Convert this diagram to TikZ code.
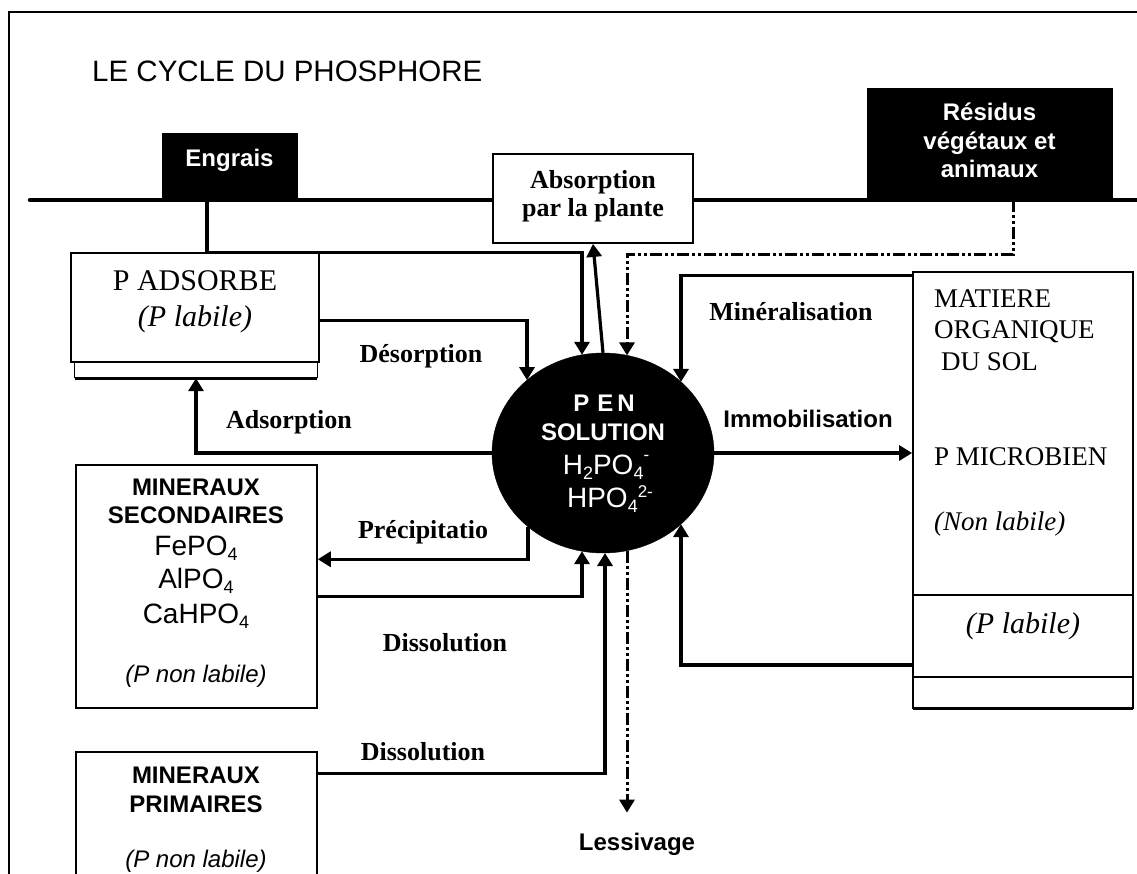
\documentclass[tikz,border=0pt]{standalone}
\usepackage{fontspec}
\setmainfont{Liberation Serif}
\newfontfamily\arial{Liberation Sans}
\usetikzlibrary{arrows.meta,calc,shapes.geometric}
\newcommand\fs[1]{\fontsize{#1}{#1}\selectfont}
\newcommand\chsub[1]{\raisebox{-0.18em}{\fs{18}#1}}
\newcommand\chsup[1]{\raisebox{0.5em}{\fs{17}#1}}
\newcommand\chsuplow[1]{\raisebox{0.33em}{\fs{17}#1}}
\begin{document}
\begin{tikzpicture}[x=1pt,y=-1pt,
  rbox/.style={draw,line width=1.8pt,fill=white,inner sep=0pt},
  bbox/.style={draw,fill=black,inner sep=0pt},
  conn/.style={line width=3.2pt,-{Triangle[length=13pt,width=15pt]}},
  ddot/.style={line width=3pt,dash pattern=on 12pt off 3pt on 3pt off 3pt on 3pt off 3pt,-{Triangle[length=13pt,width=15pt]}},
  plabel/.style={font=\fs{26}\bfseries,anchor=base,inner sep=0pt},
  slabel/.style={font=\arial\fs{24}\bfseries,anchor=base,inner sep=0pt},
  wlabel/.style={font=\arial\fs{24}\bfseries,text=white,anchor=base,inner sep=0pt},
  tlabel/.style={font=\fs{27},anchor=base west,inner sep=0pt},
  chem/.style={font=\arial\fs{28},anchor=base,inner sep=0pt},
]
\useasboundingbox (0,0) rectangle (1137,873);
\clip (0,0) rectangle (1137,873);

% frame
\draw[line width=2pt] (9,880) -- (9,12) -- (1140,12);
\node[font=\arial\fs{29.5},anchor=base west,inner sep=0pt] (title) at (92,81) {LE CYCLE DU PHOSPHORE};

% ground line
\draw[line width=4.5pt,line cap=round] (30,200) -- (1140,200);

% top boxes
\node[bbox,minimum width=135pt,minimum height=67pt] (engrais) at (229.5,166.5) {};
\node[wlabel] (engraist) at (229.5,166.5) {Engrais};
\node[bbox,minimum width=245pt,minimum height=112pt] (residus) at (989.5,144) {};
\node[wlabel] (res1) at (989.5,120.5) {Résidus};
\node[wlabel] (res2) at (989.5,149) {végétaux et};
\node[wlabel] (res3) at (989.5,177.5) {animaux};
\node[rbox,minimum width=200pt,minimum height=89pt] (absorp) at (593,198.5) {};
\node[plabel] (abs1) at (593,188) {Absorption};
\node[plabel] (abs2) at (593,216) {par la plante};

% P en solution
\node[ellipse,fill=black,draw=black,minimum width=222pt,minimum height=200pt,inner sep=0pt] (sol) at (603,453) {};
\node[wlabel] (sol1) at (604,411) {P\,\,E\,N};
\node[wlabel] (sol2) at (603,440) {SOLUTION};
\node[chem,text=white] (sol3) at (606,474) {H\chsub{2}PO\chsub{4}\chsup{-}};
\node[chem,text=white] (sol4) at (610,507) {HPO\chsub{4}\chsuplow{2-}};

% tips on the circle
\coordinate (t1) at ($(sol.center)+(-21,-98.2)$);
\coordinate (t3) at ($(sol.center)+(24,-97.6)$);
\coordinate (t4) at ($(sol.center)+(-76,-72.9)$);
\coordinate (t5) at ($(sol.center)+(78,-71.1)$);
\coordinate (t6) at ($(sol.center)+(78,71.1)$);
\coordinate (t7) at ($(sol.center)+(-75,73.7)$);
\coordinate (t8) at ($(sol.center)+(-21,98.2)$);
\coordinate (t9) at ($(sol.center)+(2,100)$);
\coordinate (t10) at ($(sol.center)+(24,97.6)$);

% P ADSORBE
\node[rbox,minimum width=248pt,minimum height=109pt] (padsorbe) at (195,307.5) {};
\node[font=\fs{30},anchor=base,inner sep=0pt] (pad1) at (195,290) {P ADSORBE};
\node[font=\fs{30}\itshape,anchor=base,inner sep=0pt] (pad2) at (195,326) {(P labile)};
\node[inner sep=0pt,minimum width=242pt,minimum height=16pt] (padstrip) at (196,370) {};
\draw[line width=1pt] (padstrip.north west) -- (padstrip.south west);
\draw[line width=1pt] (padstrip.north east) -- (padstrip.south east);
\draw[line width=3pt] (padstrip.south west) -- (padstrip.south east);

% MATIERE ORGANIQUE
\node[rbox,minimum width=220pt,minimum height=323pt] (matiere) at (1023,433.5) {};
\node[rbox,minimum width=220pt,minimum height=82pt] (mlab) at (1023,636) {};
\node[inner sep=0pt,minimum width=220pt,minimum height=31pt] (mstrip) at (1023,692.5) {};
\draw[line width=2pt] (mstrip.north west) -- (mstrip.south west) -- (mstrip.south east) -- (mstrip.north east);
\draw[line width=3pt] (mstrip.south west) -- (mstrip.south east);
\node[tlabel] (m1) at (934,307) {MATIERE};
\node[tlabel] (m2) at (934,338) {ORGANIQUE};
\node[tlabel] (m3) at (941,370) {DU SOL};
\node[tlabel] (m4) at (934,465) {P MICROBIEN};
\node[tlabel,font=\fs{27}\itshape] (m5) at (934,530) {(Non labile)};
\node[font=\fs{30}\itshape,anchor=base,inner sep=0pt] (m6) at (1023,633) {(P labile)};

% MINERAUX SECONDAIRES
\node[rbox,line width=1.5pt,minimum width=241pt,minimum height=243pt] (minsec) at (196.5,586.5) {};
\node[slabel] (ms1) at (196,495) {MINERAUX};
\node[slabel] (ms2) at (196,523) {SECONDAIRES};
\node[chem] (ms3) at (196,555) {FePO\chsub{4}};
\node[chem] (ms4) at (196,588) {AlPO\chsub{4}};
\node[chem] (ms5) at (196,623) {CaHPO\chsub{4}};
\node[font=\arial\fs{24}\itshape,anchor=base,inner sep=0pt] (ms6) at (196,682) {(P non labile)};

% MINERAUX PRIMAIRES
\node[rbox,line width=1.5pt,minimum width=241pt,minimum height=148pt] (minprim) at (196.5,826) {};
\node[slabel] (mp1) at (196,783) {MINERAUX};
\node[slabel] (mp2) at (196,812) {PRIMAIRES};
\node[font=\arial\fs{24}\itshape,anchor=base,inner sep=0pt] (mp3) at (196,867) {(P non labile)};

% connectors
\coordinate (e1) at ($(engrais.south)+(-22.5,0)$);
\draw[conn] (e1) -- (e1 |- padsorbe.north) -| (t1);
\draw[conn] (sol.north) -- (absorp.south);
\coordinate (r1) at ($(residus.south)+(23.5,0)$);
\coordinate (r2) at ($(residus.south)+(23.5,54)$);
\draw[ddot] (r1) -- (r2) -| (t3);
\coordinate (d1) at ($(padsorbe.north east)+(0,68)$);
\draw[conn] (d1) -| (t4);
\node[plabel] (desorp) at (421,362) {Désorption};
\draw[conn] (sol.west) -| (padstrip.south);
\node[plabel] (adsorp) at (289,428) {Adsorption};
\coordinate (mi1) at ($(matiere.north west)+(0,4)$);
\draw[conn] (mi1) -| (t5);
\node[plabel] (miner) at (791,320) {Minéralisation};
\draw[conn] (sol.east) -- (sol.east -| matiere.west);
\node[slabel] (immob) at (808,427) {Immobilisation};
\coordinate (ml1) at ($(mlab.south west)+(0,-13)$);
\draw[conn] (ml1) -| (t6);
\coordinate (p1) at ($(minsec.north east)+(0,95)$);
\draw[conn] (t7) |- (p1);
\node[plabel] (precip) at (423,538) {Précipitatio};
\coordinate (ds1) at ($(minsec.north east)+(0,132)$);
\draw[conn] (ds1) -| (t8);
\node[plabel] (diss1) at (445,651) {Dissolution};
\coordinate (dp1) at ($(minprim.north east)+(0,22)$);
\draw[conn] (dp1) -| (t9);
\node[plabel] (diss2) at (423,760) {Dissolution};
\coordinate (less) at ($(t10)+(0,262)$);
\draw[ddot] (t10) -- (less);
\node[font=\arial\fs{24}\bfseries,anchor=base,inner sep=0pt] (lessiv) at (637,850) {Lessivage};
\end{tikzpicture}
\end{document}
